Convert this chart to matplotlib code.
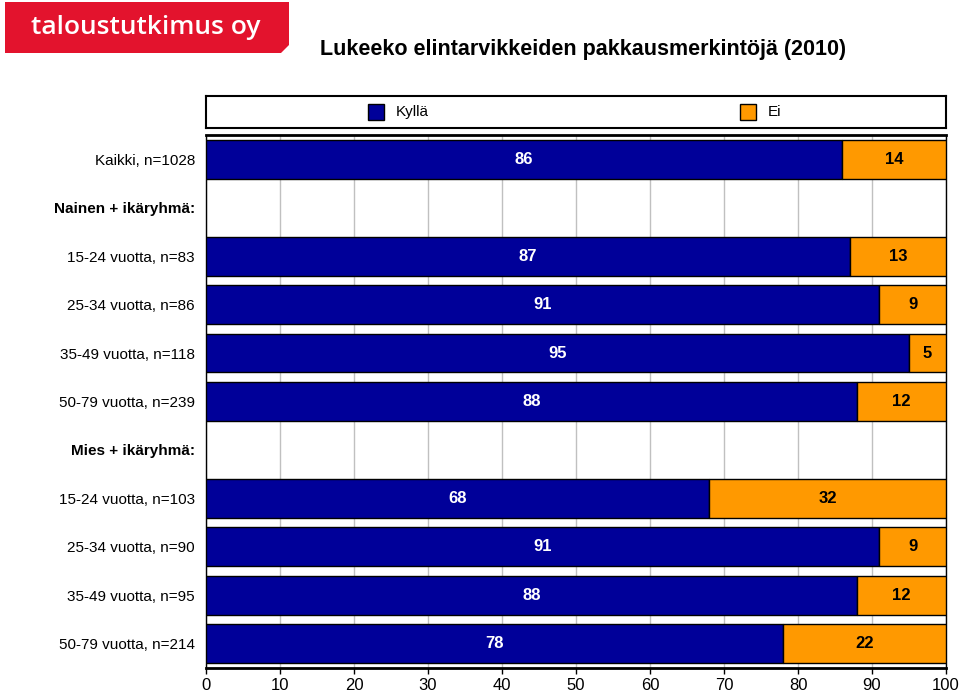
import matplotlib
matplotlib.use("Agg")
import matplotlib.pyplot as plt
from matplotlib.patches import Rectangle, Polygon

plt.rcParams['font.family'] = ['Liberation Sans', 'DejaVu Sans']

categories = ["Kaikki, n=1028", "Nainen + ikäryhmä:", "15-24 vuotta, n=83", "25-34 vuotta, n=86",
              "35-49 vuotta, n=118", "50-79 vuotta, n=239", "Mies + ikäryhmä:",
              "15-24 vuotta, n=103", "25-34 vuotta, n=90", "35-49 vuotta, n=95", "50-79 vuotta, n=214"]
kylla = [86, None, 87, 91, 95, 88, None, 68, 91, 88, 78]
ei = [14, None, 13, 9, 5, 12, None, 32, 9, 12, 22]
headers = {"Nainen + ikäryhmä:", "Mies + ikäryhmä:"}
series_names = ["Kyllä", "Ei"]
xticks = list(range(0, 101, 10))

navy = "#000099"
orange = "#FF9900"

fig = plt.figure(figsize=(9.6, 6.97), dpi=100)
ax = fig.add_axes([206/960, 1-668/697, 740/960, (668-135)/697])

ys = list(range(len(categories)))
for y, k, e in zip(ys, kylla, ei):
    if k is None:
        continue
    ax.barh(y, k, left=0, height=0.8, color=navy, edgecolor="black", linewidth=1, zorder=3)
    ax.barh(y, e, left=k, height=0.8, color=orange, edgecolor="black", linewidth=1, zorder=3)
    ax.text(k/2, y, str(k), ha="center", va="center", color="white", fontsize=12, fontweight="bold", zorder=4)
    ax.text(k + e/2, y, str(e), ha="center", va="center", color="black", fontsize=12, fontweight="bold", zorder=4)

ax.set_xlim(0, 100)
ax.set_ylim(len(categories)-0.5, -0.5)
ax.set_xticks(xticks)
ax.set_xticklabels([str(t) for t in xticks], fontsize=12)
ax.set_yticks(ys)
ax.set_yticklabels(categories, fontsize=11)
for lab in ax.get_yticklabels():
    if lab.get_text() in headers:
        lab.set_fontweight("bold")
ax.tick_params(axis="y", length=0, pad=8)
ax.tick_params(axis="x", length=4, width=1, pad=3)
ax.grid(axis="x", color="#C0C0C0", linewidth=1, zorder=0)
ax.set_axisbelow(True)
for side in ["top", "bottom"]:
    ax.spines[side].set_linewidth(2)
for side in ["left", "right"]:
    ax.spines[side].set_linewidth(1)

# Legend box
lax = fig.add_axes([206/960, 1-128/697, 740/960, 32/697])
lax.set_xlim(0, 740)
lax.set_ylim(0, 32)
lax.set_xticks([])
lax.set_yticks([])
for s in lax.spines.values():
    s.set_linewidth(1.5)
lax.add_patch(Rectangle((162, 8), 16, 16, facecolor=navy, edgecolor="black", linewidth=1))
lax.text(190, 16, series_names[0], va="center", ha="left", fontsize=11)
lax.add_patch(Rectangle((534, 8), 16, 16, facecolor=orange, edgecolor="black", linewidth=1))
lax.text(562, 16, series_names[1], va="center", ha="left", fontsize=11)

# Title
fig.text(583/960, 1-50/697, "Lukeeko elintarvikkeiden pakkausmerkintöjä (2010)", ha="center", va="center",
         fontsize=15.5, fontweight="bold")

# Logo
logo = fig.add_axes([5/960, 1-53/697, 284/960, 51/697])
logo.set_xlim(0, 284)
logo.set_ylim(0, 51)
logo.axis("off")
logo.add_patch(Polygon([(0, 0), (276, 0), (284, 8), (284, 51), (0, 51)], closed=True,
                       facecolor="#E3132D", edgecolor="none"))
logo.text(141, 26, "taloustutkimus oy", ha="center", va="center", color="white",
          fontsize=19, fontweight="semibold", family=["Open Sans", "DejaVu Sans"])

fig.savefig("out.png", dpi=100)
